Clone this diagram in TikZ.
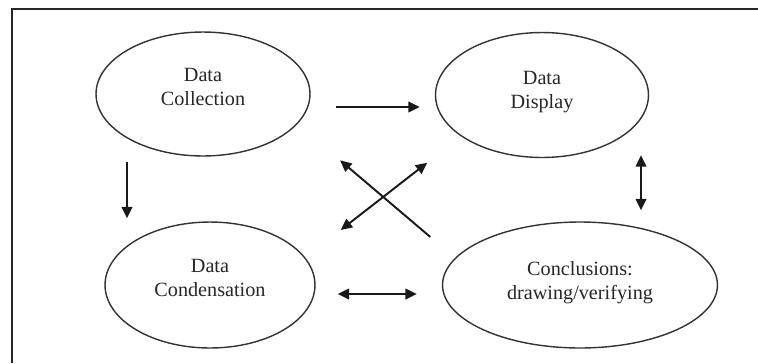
\documentclass[tikz,border=0pt]{standalone}
\usepackage{fontspec}
\setmainfont{Liberation Serif}
\usetikzlibrary{shapes.geometric,arrows.meta}
\tikzset{
  stage/.style={draw=black!80,line width=0.8pt,ellipse,inner sep=0pt,align=center,text=black!85,font=\fontsize{11.5}{13.6}\selectfont},
  arr/.style={line width=1.1pt,draw=black!90,-{Triangle[length=6.5pt,width=6pt]}},
  darr/.style={arr,{Triangle[length=6.5pt,width=6pt]}-{Triangle[length=6.5pt,width=6pt]}}
}
\begin{document}
\begin{tikzpicture}[x=0.02cm,y=-0.02cm]
\useasboundingbox (0,0) rectangle (758,363);
\draw[line width=1.2pt,black!85] (12,363) -- (12,9) -- (758,9);
\node[stage,minimum width=4.28cm,minimum height=2.48cm] (coll) at (203,94) {Data\\Collection\\[-6pt]\mbox{}};
\node[stage,minimum width=4.26cm,minimum height=2.5cm] (disp) at (542,95) {Data\\Display\\[-8pt]\mbox{}};
\node[stage,minimum width=4.2cm,minimum height=2.52cm] (cond) at (210,285) {Data\\Condensation\\[-6pt]\mbox{}};
\node[stage,minimum width=5.5cm,minimum height=2.52cm] (concl) at (580,285) {Conclusions:\\drawing/verifying\\[-8pt]\mbox{}};
% arrows between the stages
\draw[arr] ([shift={(25,13)}]coll.east) -- ([shift={(-15,12)}]disp.west);
\draw[arr] ([shift={(-76,5)}]coll.south) -- ([shift={(-83,-3)}]cond.north);
\draw[darr] ([shift={(99,-3)}]disp.south) -- ([shift={(61,-11)}]concl.north);
\draw[darr] ([shift={(22,9)}]cond.east) -- ([shift={(-25,9)}]concl.west);
\draw[arr] ([shift={(-52,-3)}]concl.north west) -- ([shift={(61,22)}]coll.south east);
\draw[darr] ([shift={(56,-10)}]cond.north east) -- ([shift={(-39,23)}]disp.south west);
\end{tikzpicture}
\end{document}
